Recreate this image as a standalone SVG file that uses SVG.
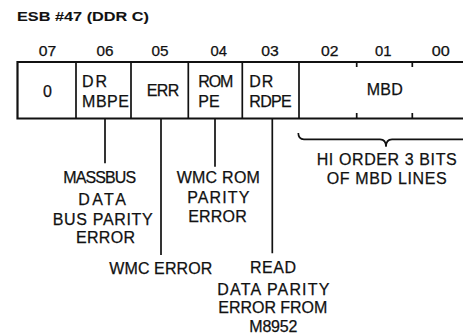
<svg xmlns="http://www.w3.org/2000/svg" width="463" height="336" viewBox="0 0 463 336">
<style>
text{font-family:"Liberation Sans",Arial,sans-serif;font-size:16px;fill:#111;stroke:#111;stroke-width:0.25}
.t{font-weight:bold;font-size:13.5px;stroke-width:0.1}
.n{font-size:14px}
.m{text-anchor:middle}
.ln{stroke:#111;stroke-width:1.7;fill:none}
.bx{stroke:#111;stroke-width:2.2;fill:#fff}
</style>
<rect width="463" height="336" fill="#fff"/>
<text class="t" x="17" y="21" textLength="132" lengthAdjust="spacingAndGlyphs">ESB #47 (DDR C)</text>
<g id="bits">
<text class="m n" x="47.5" y="56" textLength="17.5" lengthAdjust="spacingAndGlyphs">07</text>
<text class="m n" x="105" y="56" textLength="17" lengthAdjust="spacingAndGlyphs">06</text>
<text class="m n" x="160" y="56" textLength="17" lengthAdjust="spacingAndGlyphs">05</text>
<text class="m n" x="218.7" y="56" textLength="16.5" lengthAdjust="spacingAndGlyphs">04</text>
<text class="m n" x="270" y="56" textLength="17.5" lengthAdjust="spacingAndGlyphs">03</text>
<text class="m n" x="329.7" y="56" textLength="17.5" lengthAdjust="spacingAndGlyphs">02</text>
<text class="m n" x="383.3" y="56" textLength="16.5" lengthAdjust="spacingAndGlyphs">01</text>
<text class="m n" x="440.8" y="56" textLength="18" lengthAdjust="spacingAndGlyphs">00</text>
</g>
<g id="register">
<path class="bx" d="M470 62 H17.5 V118.5 H470"/>
<path class="ln" d="M76 62 V118.5 M131 62 V118.5 M188.3 62 V118.5 M242.3 62 V118.5 M299 62 V118.5"/>
<path class="ln" d="M356.7 62 V67 M356.7 113 V118.5 M412.3 62 V67 M412.3 113 V118.5"/>
</g>
<g id="b07"><text class="m" x="47.5" y="97">0</text></g>
<g id="b06"><text x="82" y="87.3" textLength="25" lengthAdjust="spacing">DR</text><text x="82" y="106.5" textLength="47" lengthAdjust="spacing">MBPE</text></g>
<g id="b05"><text x="146.7" y="96" textLength="32.6" lengthAdjust="spacing">ERR</text></g>
<g id="b04"><text x="198.3" y="86.5" textLength="35" lengthAdjust="spacing">ROM</text><text x="198.3" y="107">PE</text></g>
<g id="b03"><text x="249.3" y="86.5" textLength="24" lengthAdjust="spacing">DR</text><text x="249.3" y="107" textLength="42.4" lengthAdjust="spacing">RDPE</text></g>
<g id="b02_00"><text x="366.7" y="94.5" textLength="36" lengthAdjust="spacing">MBD</text></g>
<g id="connectors">
<path class="ln" d="M105 119 V163.3 M161 119 V255 M215 119 V166.7 M272.3 119 V253.3"/>
<path class="ln" d="M298.3 133 Q298.3 139.3 304 139.3 H380 Q386 139.3 386 146.7 Q386 139.3 392 139.3 H468 Q474 139.3 474 133"/>
</g>
<g id="lbl_mbpe">
<text class="m" x="99.7" y="183" textLength="73" lengthAdjust="spacing">MASSBUS</text>
<text class="m" x="102" y="204.5" textLength="47.7" lengthAdjust="spacing">DATA</text>
<text class="m" x="102.7" y="225" textLength="100" lengthAdjust="spacing">BUS PARITY</text>
<text class="m" x="105.5" y="243.3" textLength="59" lengthAdjust="spacing">ERROR</text>
</g>
<g id="lbl_rompe">
<text class="m" x="218.3" y="183.3" textLength="83.3" lengthAdjust="spacing">WMC ROM</text>
<text class="m" x="218.3" y="203.3" textLength="62" lengthAdjust="spacing">PARITY</text>
<text class="m" x="217.5" y="221.7" textLength="58.4" lengthAdjust="spacing">ERROR</text>
</g>
<g id="lbl_err">
<text class="m" x="160.8" y="274.3" textLength="103" lengthAdjust="spacing">WMC ERROR</text>
</g>
<g id="lbl_rdpe">
<text class="m" x="273" y="273.3" textLength="46" lengthAdjust="spacing">READ</text>
<text class="m" x="273.3" y="295" textLength="112" lengthAdjust="spacing">DATA PARITY</text>
<text class="m" x="272.8" y="313.3" textLength="109" lengthAdjust="spacing">ERROR FROM</text>
<text class="m" x="273.3" y="331.7" textLength="48" lengthAdjust="spacing">M8952</text>
</g>
<g id="lbl_mbd">
<text class="m" x="386.7" y="165" textLength="140" lengthAdjust="spacing">HI ORDER 3 BITS</text>
<text class="m" x="386.7" y="184" textLength="120" lengthAdjust="spacing">OF MBD LINES</text>
</g>
</svg>
